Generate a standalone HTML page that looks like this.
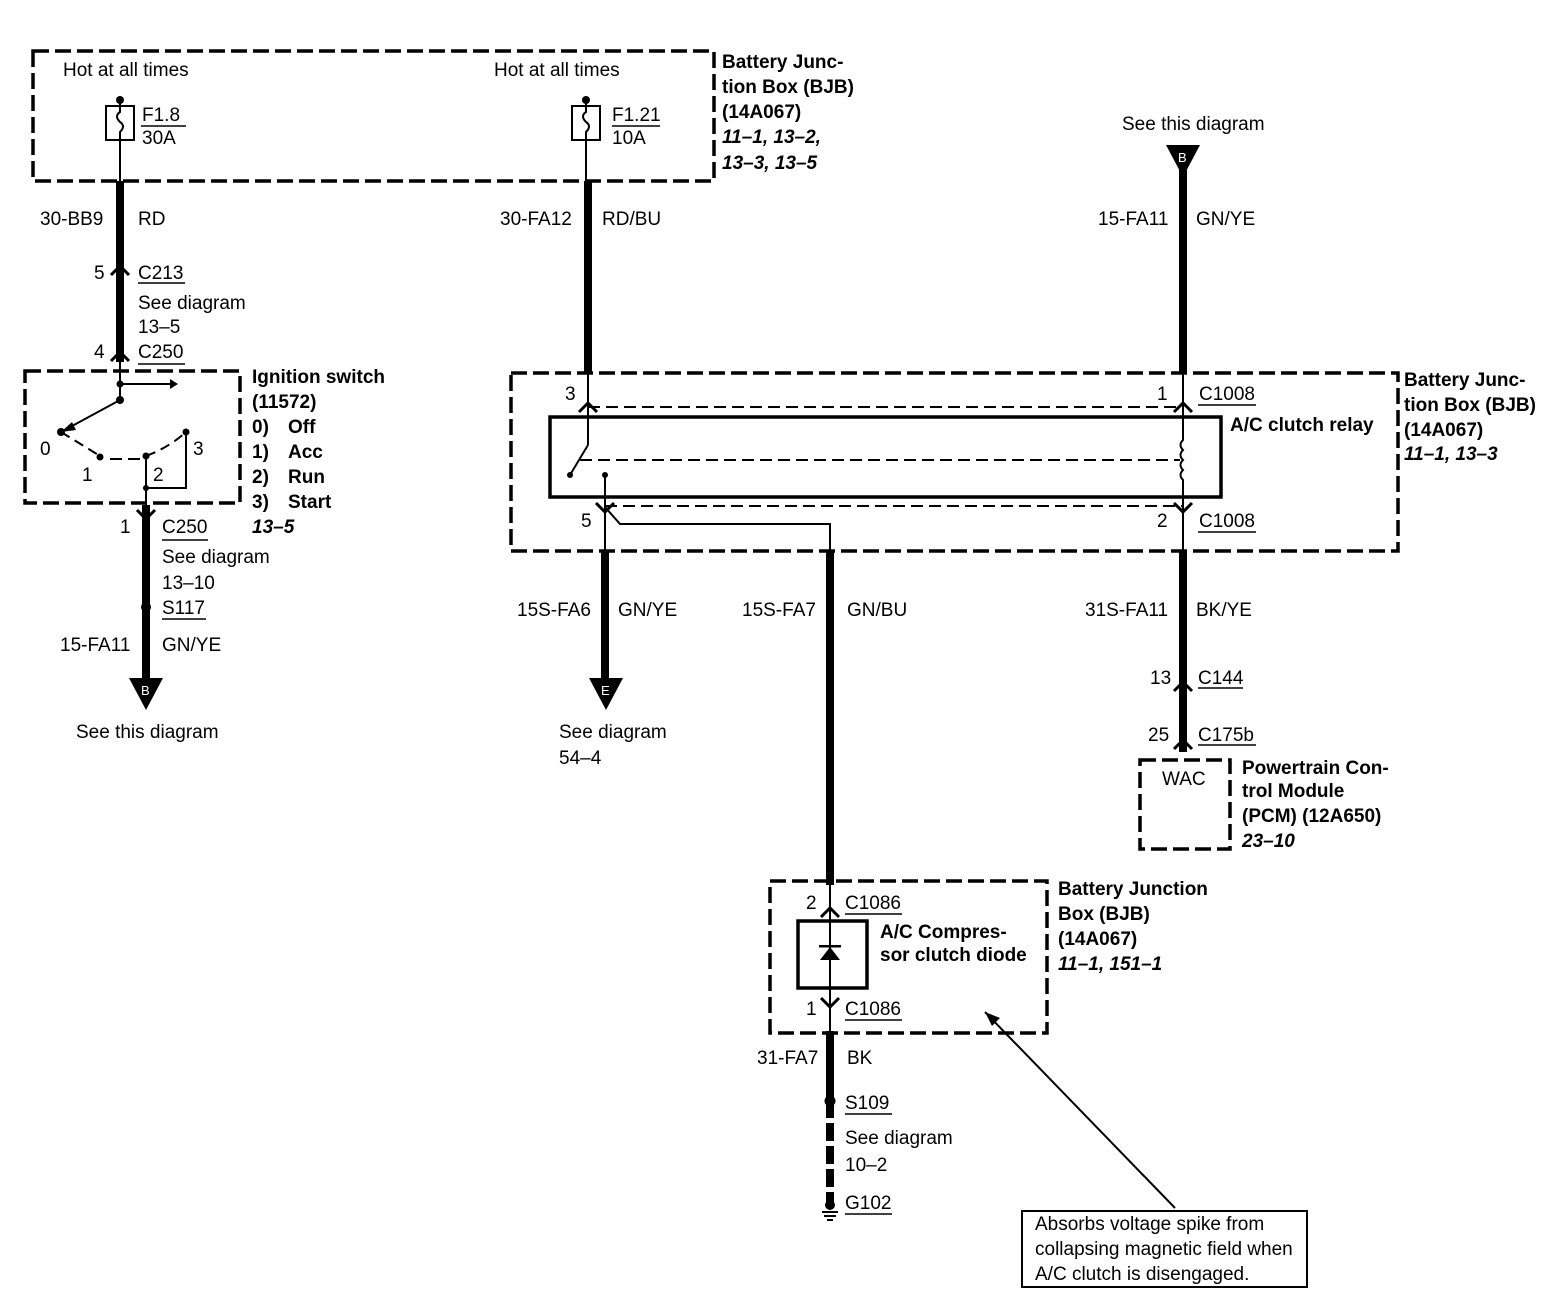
<!DOCTYPE html>
<html><head><meta charset="utf-8"><style>
html,body{margin:0;padding:0;background:#fff}
svg{display:block}
text{font-family:"Liberation Sans",Arial,sans-serif;font-size:19px;fill:#000}
.b{font-weight:bold}
.i{font-weight:bold;font-style:italic}
</style></head><body>
<svg width="1548" height="1312" viewBox="0 0 1548 1312" xmlns="http://www.w3.org/2000/svg">
<g fill="none" stroke="#000">
<g stroke-width="3.5" stroke-dasharray="16,6">
<rect x="33" y="51" width="681" height="130"/>
<rect x="25" y="371" width="215" height="132"/>
<rect x="511" y="373" width="887" height="178"/>
<rect x="1140" y="760" width="90" height="89"/>
<rect x="770" y="881" width="277" height="152"/>
<line x1="588" y1="407" x2="1183" y2="407" stroke-width="2" stroke-dasharray="12,6"/>
<line x1="605" y1="506" x2="1183" y2="506" stroke-width="2" stroke-dasharray="12,6"/>
<line x1="580" y1="460" x2="1180" y2="460" stroke-width="2" stroke-dasharray="12,6"/>
</g>
<rect x="106" y="106" width="28" height="34" stroke-width="2"/>
<path d="M120 100 V112 q-6 4 0 10 q6 4 0 10 V181" stroke-width="2"/>
<rect x="572" y="106" width="28" height="34" stroke-width="2"/>
<path d="M586 100 V112 q-6 4 0 10 q6 4 0 10 V181" stroke-width="2"/>
<line x1="141" y1="126" x2="186" y2="126" stroke-width="1.5"/>
<line x1="612" y1="126" x2="660" y2="126" stroke-width="1.5"/>
<g stroke-width="8">
<line x1="120" y1="181" x2="120" y2="362"/>
<line x1="588" y1="181" x2="588" y2="373"/>
<line x1="1183" y1="170" x2="1183" y2="373"/>
<line x1="146" y1="505" x2="146" y2="682"/>
<line x1="605" y1="551" x2="605" y2="682"/>
<line x1="830" y1="551" x2="830" y2="885"/>
<line x1="1183" y1="551" x2="1183" y2="752"/>
<line x1="830" y1="1031" x2="830" y2="1100"/>
<line x1="830" y1="1100" x2="830" y2="1205" stroke-dasharray="18,5"/>
</g>
<g stroke-width="2">
<line x1="120" y1="362" x2="120" y2="400"/>
<line x1="120" y1="384" x2="170" y2="384"/>
<line x1="120" y1="400" x2="61" y2="432"/>
<path d="M61 432 L100 456" stroke-dasharray="10,6"/>
<path d="M110 459 H140" stroke-dasharray="12,6"/>
<path d="M146 456 Q168 448 186 432" stroke-dasharray="10,6"/>
<line x1="146" y1="456" x2="146" y2="505"/>
<polyline points="186,432 186,488 146,488"/>
<line x1="588" y1="373" x2="588" y2="445"/>
<line x1="588" y1="445" x2="570" y2="475"/>
<line x1="605" y1="475" x2="605" y2="551"/>
<path d="M605 507 L620 524 H830 V551"/>
<path d="M1183 373 V440 q-5 5 0 10 q-5 5 0 10 q-5 5 0 10 q-5 5 0 10 V551"/>
<line x1="830" y1="885" x2="830" y2="1031"/>
<line x1="1175" y1="1208" x2="985" y2="1012"/>
</g>
<rect x="550" y="417" width="671" height="80" stroke-width="3.5"/>
<rect x="798" y="921" width="69" height="67" stroke-width="3.5"/>
<rect x="1022" y="1211" width="285" height="76" stroke-width="2"/>
<g stroke-width="1.5">
<line x1="138" y1="283" x2="185" y2="283"/>
<line x1="138" y1="364" x2="185" y2="364"/>
<line x1="162" y1="540" x2="208" y2="540"/>
<line x1="162" y1="619" x2="206" y2="619"/>
<line x1="1198" y1="405" x2="1256" y2="405"/>
<line x1="1198" y1="532" x2="1256" y2="532"/>
<line x1="1198" y1="688" x2="1243" y2="688"/>
<line x1="1198" y1="745" x2="1256" y2="745"/>
<line x1="845" y1="914" x2="902" y2="914"/>
<line x1="845" y1="1020" x2="902" y2="1020"/>
<line x1="845" y1="1114" x2="892" y2="1114"/>
<line x1="845" y1="1214" x2="892" y2="1214"/>
</g>
<g stroke-width="2"><line x1="822" y1="1212" x2="838" y2="1212"/><line x1="824" y1="1216" x2="836" y2="1216"/><line x1="827" y1="1220" x2="833" y2="1220"/></g>
<!-- connector chevrons -->
<g stroke-width="3">
<polyline points="111,275 120,266 129,275"/><polyline points="111,361 120,352 129,361"/>
<polyline points="137,510 146,519 155,510"/>
<polyline points="579,412 588,403 597,412"/><polyline points="1174,412 1183,403 1192,412"/>
<polyline points="596,503 605,512 614,503"/><polyline points="1174,503 1183,512 1192,503"/>
<polyline points="1174,691 1183,682 1192,691"/><polyline points="1174,749 1183,740 1192,749"/>
<polyline points="821,917 830,908 839,917"/><polyline points="821,998 830,1007 839,998"/>
</g>
</g>
<g fill="#000">
<circle cx="120" cy="100" r="4"/><circle cx="586" cy="100" r="4"/>
<circle cx="120" cy="384" r="3.5"/><circle cx="120" cy="400" r="4"/><circle cx="61" cy="432" r="4"/>
<circle cx="100" cy="457" r="3.5"/><circle cx="146" cy="456" r="3.5"/><circle cx="186" cy="432" r="3.5"/><circle cx="146" cy="488" r="3"/>
<circle cx="605" cy="475" r="3"/><circle cx="570" cy="475" r="3"/>
<circle cx="146" cy="607" r="5"/><circle cx="830" cy="1101" r="5.5"/><circle cx="830" cy="1205" r="5"/>
<polygon points="170,379 178,384 170,389"/>
<polygon points="61,432 72,422 76,430"/>
<polygon points="129,678 163,678 146,710"/>
<polygon points="589,678 623,678 606,710"/>
<polygon points="1166,145 1200,145 1183,177"/>
<polygon points="820,960 840,960 830,947"/><rect x="819" y="945" width="22" height="2.5"/>
<polygon points="985,1012 1000,1018 992,1026"/>
</g>
<text x="141" y="695" style="fill:#fff;font-size:13px">B</text><text x="601" y="695" style="fill:#fff;font-size:13px">E</text><text x="1178" y="162" style="fill:#fff;font-size:13px">B</text>
<text x="63" y="76">Hot at all times</text>
<text x="494" y="76">Hot at all times</text>
<text x="142" y="121">F1.8</text><text x="142" y="144">30A</text>
<text x="612" y="121">F1.21</text><text x="612" y="144">10A</text>
<text class="b" x="722" y="68">Battery Junc-</text>
<text class="b" x="722" y="93">tion Box (BJB)</text>
<text class="b" x="722" y="118">(14A067)</text>
<text class="i" x="722" y="143">11–1, 13–2,</text>
<text class="i" x="722" y="169">13–3, 13–5</text>
<text x="1122" y="130">See this diagram</text>
<text x="40" y="225">30-BB9</text><text x="138" y="225">RD</text>
<text x="500" y="225">30-FA12</text><text x="602" y="225">RD/BU</text>
<text x="1098" y="225">15-FA11</text><text x="1196" y="225">GN/YE</text>
<text x="94" y="279">5</text><text x="138" y="279">C213</text>
<text x="138" y="309">See diagram</text><text x="138" y="333">13–5</text>
<text x="94" y="358">4</text><text x="138" y="358">C250</text>
<text class="b" x="252" y="383">Ignition switch</text>
<text class="b" x="252" y="408">(11572)</text>
<text class="b" x="252" y="433">0)</text><text class="b" x="288" y="433">Off</text>
<text class="b" x="252" y="458">1)</text><text class="b" x="288" y="458">Acc</text>
<text class="b" x="252" y="483">2)</text><text class="b" x="288" y="483">Run</text>
<text class="b" x="252" y="508">3)</text><text class="b" x="288" y="508">Start</text>
<text class="i" x="252" y="533">13–5</text>
<text x="40" y="455">0</text><text x="82" y="481">1</text><text x="153" y="481">2</text><text x="193" y="455">3</text>
<text x="120" y="533">1</text><text x="162" y="533">C250</text>
<text x="162" y="563">See diagram</text><text x="162" y="589">13–10</text>
<text x="162" y="614">S117</text>
<text x="60" y="651">15-FA11</text><text x="162" y="651">GN/YE</text>
<text x="76" y="738">See this diagram</text>
<text x="565" y="400">3</text><text x="1157" y="400">1</text><text x="1199" y="400">C1008</text>
<text class="b" x="1230" y="431">A/C clutch relay</text>
<text x="581" y="527">5</text><text x="1157" y="527">2</text><text x="1199" y="527">C1008</text>
<text class="b" x="1404" y="386">Battery Junc-</text>
<text class="b" x="1404" y="411">tion Box (BJB)</text>
<text class="b" x="1404" y="436">(14A067)</text>
<text class="i" x="1404" y="460">11–1, 13–3</text>
<text x="517" y="616">15S-FA6</text><text x="618" y="616">GN/YE</text>
<text x="742" y="616">15S-FA7</text><text x="847" y="616">GN/BU</text>
<text x="1085" y="616">31S-FA11</text><text x="1196" y="616">BK/YE</text>
<text x="559" y="738">See diagram</text><text x="559" y="764">54–4</text>
<text x="1150" y="684">13</text><text x="1198" y="684">C144</text>
<text x="1148" y="741">25</text><text x="1198" y="741">C175b</text>
<text x="1162" y="785">WAC</text>
<text class="b" x="1242" y="774">Powertrain Con-</text>
<text class="b" x="1242" y="797">trol Module</text>
<text class="b" x="1242" y="822">(PCM) (12A650)</text>
<text class="i" x="1242" y="847">23–10</text>
<text class="b" x="1058" y="895">Battery Junction</text>
<text class="b" x="1058" y="920">Box (BJB)</text>
<text class="b" x="1058" y="945">(14A067)</text>
<text class="i" x="1058" y="970">11–1, 151–1</text>
<text x="806" y="909">2</text><text x="845" y="909">C1086</text>
<text class="b" x="880" y="938">A/C Compres-</text>
<text class="b" x="880" y="961">sor clutch diode</text>
<text x="806" y="1015">1</text><text x="845" y="1015">C1086</text>
<text x="757" y="1064">31-FA7</text><text x="847" y="1064">BK</text>
<text x="845" y="1109">S109</text>
<text x="845" y="1144">See diagram</text><text x="845" y="1171">10–2</text>
<text x="845" y="1209">G102</text>
<text x="1035" y="1230">Absorbs voltage spike from</text>
<text x="1035" y="1255">collapsing magnetic field when</text>
<text x="1035" y="1280">A/C clutch is disengaged.</text>
</svg>
</body></html>
